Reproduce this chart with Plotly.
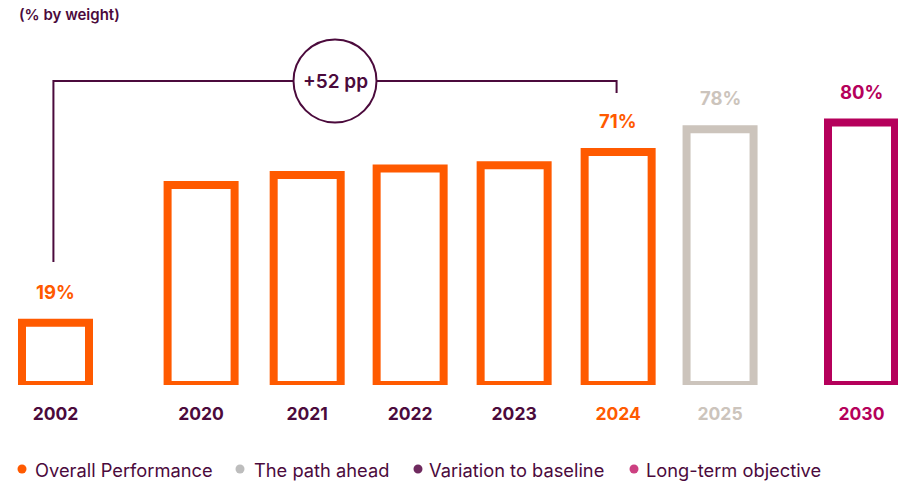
import plotly.graph_objects as go

# ---------------- data ----------------
years = ["2002", "2020", "2021", "2022", "2023", "2024", "2025", "2030"]
values = [19, 61, 64, 66, 67, 71, 78, 80]
value_labels = ["19%", "", "", "", "", "71%", "78%", "80%"]
series = ["Overall Performance"] * 6 + ["The path ahead", "Long-term objective"]
legend_names = ["Overall Performance", "The path ahead", "Variation to baseline", "Long-term objective"]
baseline_year = "2002"
current_year = "2024"
unit_title = "(% by weight)"

# ---------------- style / layout ----------------
W, H = 898, 485
PLOT_H = 385                # plot area height in px (baseline at y=385)
PX_PER_PCT = 3.28
SLOT = 104.0                # px per x unit
X0_PX = 55.5                # px of first bar centre
x_pos = [0, 1.4, 2.42, 3.41, 4.41, 5.41, 6.39, 7.75]

ORANGE = "#ff5a00"
GREY = "#ccc4bc"
MAGENTA = "#b5005b"
PURPLE = "#4b0a3c"
series_color = {"Overall Performance": ORANGE, "The path ahead": GREY, "Long-term objective": MAGENTA}
legend_dot = {"Overall Performance": ORANGE, "The path ahead": "#bdbdbd",
              "Variation to baseline": "#6f2a5f", "Long-term objective": "#cc4081"}
tick_color = {"2024": ORANGE, "2025": GREY, "2030": MAGENTA}
FONT = "Inter"


def px_x(px):
    return px / W


def px_y(px):
    return (PLOT_H - px) / PLOT_H


bar_colors = [series_color[s] for s in series]

fig = go.Figure()
fig.add_trace(go.Bar(
    x=x_pos, y=values, width=67 / SLOT,
    marker=dict(color="rgba(0,0,0,0)", line=dict(color=bar_colors, width=8)),
    cliponaxis=False, showlegend=False, hoverinfo="skip",
))

# value labels
for xp, v, lab, c in zip(x_pos, values, value_labels, bar_colors):
    if lab:
        fig.add_annotation(x=xp, y=v, text=f"<b>{lab}</b>", showarrow=False,
                           yshift=31, xanchor="center", yanchor="middle",
                           font=dict(family=FONT, size=18.5, color=c))

# variation bracket between baseline and current year
i0 = years.index(baseline_year)
i1 = years.index(current_year)
xa, xb = x_pos[i0] - 0.02, x_pos[i1] - 0.015
y_bar = (PLOT_H - 81) / PX_PER_PCT
y_left_end = (PLOT_H - 262) / PX_PER_PCT
y_right_end = (PLOT_H - 93) / PX_PER_PCT
line = dict(color=PURPLE, width=2)
fig.add_shape(type="path", xref="x", yref="y",
              path=f"M {xa} {y_left_end} L {xa} {y_bar} L {xb} {y_bar} L {xb} {y_right_end}",
              line=line, layer="above")
xm = (xa + xb) / 2
fig.add_shape(type="circle", xref="x", yref="y", xsizemode="pixel", ysizemode="pixel",
              xanchor=xm, yanchor=y_bar, x0=-41.5, x1=41.5, y0=-41.5, y1=41.5,
              line=line, fillcolor="white", layer="above")
fig.add_annotation(x=xm, y=y_bar, text=f"+{values[i1] - values[i0]} pp", showarrow=False,
                   font=dict(family=FONT, size=19, color=PURPLE, weight=600))

# title
fig.add_annotation(xref="paper", yref="paper", x=px_x(17), y=px_y(14), text=unit_title,
                   showarrow=False, xanchor="left", yanchor="middle",
                   font=dict(family=FONT, size=15, color=PURPLE, weight=600))

# legend (custom)
legend_dot_px = [22, 240, 418, 634]
legend_text_px = [33, 252, 427, 644]
for name, dx, tx in zip(legend_names, legend_dot_px, legend_text_px):
    fig.add_shape(type="circle", xref="paper", yref="paper", xsizemode="pixel", ysizemode="pixel",
                  xanchor=px_x(dx), yanchor=px_y(469), x0=-4.5, x1=4.5, y0=-4.5, y1=4.5,
                  fillcolor=legend_dot[name], line=dict(width=0))
    fig.add_annotation(xref="paper", yref="paper", x=px_x(tx), y=px_y(470), text=name,
                       showarrow=False, xanchor="left", yanchor="middle",
                       font=dict(family=FONT, size=18.3, color=PURPLE))

ticktext = [f"<span style='color:{tick_color.get(y, PURPLE)}'><b>{y}</b></span>" for y in years]

fig.update_layout(
    width=W, height=H,
    margin=dict(l=0, r=0, t=0, b=H - PLOT_H, pad=0),
    paper_bgcolor="white", plot_bgcolor="white",
    xaxis=dict(range=[-X0_PX / SLOT, (W - X0_PX) / SLOT], tickvals=x_pos, ticktext=ticktext,
               showgrid=False, zeroline=False, showline=False, ticks="",
               tickfont=dict(family=FONT, size=17.5, color=PURPLE), ticklabelstandoff=16,
               fixedrange=True),
    yaxis=dict(range=[0, PLOT_H / PX_PER_PCT], visible=False, fixedrange=True),
    showlegend=False,
)

fig.write_html("out.html", config={"displayModeBar": False},
               post_script="document.body.style.margin='0';document.body.style.overflow='hidden';")
